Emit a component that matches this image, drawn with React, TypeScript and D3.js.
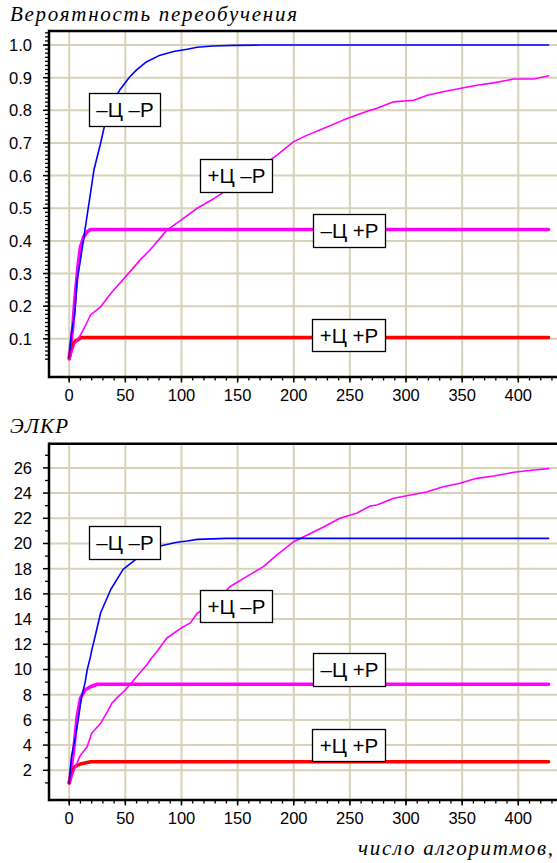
import React from "react";
import * as d3 from "d3";

// ---------- DATA ----------
const xTicks = [0, 50, 100, 150, 200, 250, 300, 350, 400];
const topYTicks = [0.1, 0.2, 0.3, 0.4, 0.5, 0.6, 0.7, 0.8, 0.9, 1.0];
const botYTicks = [2, 4, 6, 8, 10, 12, 14, 16, 18, 20, 22, 24, 26];

// Top panel: Вероятность переобучения
const topBlueX = [0, 2, 5, 7, 10, 14, 19, 22, 28, 32, 38, 45, 54, 60, 69, 81, 93, 105, 114, 128, 146, 170, 427];
const topBlueY = [0.045, 0.117, 0.178, 0.28, 0.341, 0.433, 0.547, 0.617, 0.7, 0.761, 0.822, 0.862, 0.903, 0.924, 0.949, 0.969, 0.98, 0.987, 0.993, 0.997, 0.999, 1.0, 1.0];

const topMagThinX = [0, 5, 10, 14, 19, 28, 37, 45, 54, 63, 72, 87, 99, 114, 129, 143, 158, 173, 185, 200, 212, 227, 244, 256, 268, 274, 289, 307, 319, 333, 348, 363, 378, 396, 414, 427];
const topMagThinY = [0.035, 0.086, 0.111, 0.137, 0.173, 0.198, 0.239, 0.27, 0.305, 0.341, 0.372, 0.433, 0.462, 0.5, 0.53, 0.561, 0.586, 0.632, 0.663, 0.704, 0.724, 0.745, 0.77, 0.786, 0.8, 0.806, 0.826, 0.831, 0.846, 0.857, 0.867, 0.877, 0.884, 0.896, 0.896, 0.906];

const topMagThickX = [0, 3, 5, 8, 10, 13, 16, 19, 427];
const topMagThickY = [0.04, 0.13, 0.22, 0.33, 0.382, 0.413, 0.428, 0.435, 0.435];

const topRedX = [0, 2, 4, 7, 11, 427];
const topRedY = [0.04, 0.07, 0.088, 0.096, 0.104, 0.104];

// Bottom panel: ЭЛКР
const botBlueX = [0, 2, 5, 8, 11, 14, 16, 19, 20, 23, 28, 37, 48, 63, 81, 96, 105, 114, 140, 427];
const botBlueY = [1, 3.08, 4.4, 6.0, 7.85, 8.9, 9.96, 11.04, 11.5, 12.6, 14.5, 16.35, 17.95, 19.0, 19.8, 20.1, 20.2, 20.33, 20.41, 20.41];

const botMagThinX = [0, 5, 10, 16, 20, 28, 34, 38, 42, 50, 60, 69, 72, 78, 87, 99, 108, 114, 129, 143, 158, 173, 185, 200, 212, 227, 241, 256, 268, 274, 289, 304, 319, 333, 348, 363, 378, 396, 414, 427];
const botMagThinY = [1, 2.16, 3.2, 3.87, 4.94, 5.73, 6.65, 7.32, 7.71, 8.37, 9.43, 10.36, 10.75, 11.41, 12.5, 13.25, 13.7, 14.46, 15.25, 16.57, 17.37, 18.16, 19.09, 20.14, 20.67, 21.33, 22.0, 22.4, 22.98, 23.06, 23.59, 23.85, 24.11, 24.51, 24.78, 25.17, 25.36, 25.65, 25.83, 25.94];

const botMagThickX = [0, 4, 7, 10, 14, 19, 25, 427];
const botMagThickY = [1, 3.6, 6.25, 7.71, 8.37, 8.63, 8.83, 8.83];

const botRedX = [0, 3, 5, 10, 19, 427];
const botRedY = [1, 2.0, 2.29, 2.5, 2.68, 2.68];

const seriesNames = ["–Ц –Р", "+Ц –Р", "–Ц +Р", "+Ц +Р"];

// ---------- LAYOUT ----------
const W = 557;
const H = 863;
const GRID = "#d6d3b6";
const SANS = "'Liberation Sans', Arial, sans-serif";
const SERIF = "'Liberation Serif', 'Times New Roman', serif";

type Series = { x: number[]; y: number[]; color: string; width: number };
type LabelBox = { name: string; x0: number; y0: number; w: number; h: number };

function zip(xs: number[], ys: number[]): [number, number][] {
  return xs.map((v, i) => [v, ys[i]] as [number, number]);
}

function Panel(props: {
  top: number;
  bottom: number;
  yDomain: [number, number];
  yTicks: number[];
  yMinorStep: number;
  yMinorRange: [number, number];
  yFmt: (v: number) => string;
  series: Series[];
  labels: LabelBox[];
}) {
  const { top, bottom, yDomain, yTicks, yMinorStep, yMinorRange, yFmt, series, labels } = props;
  const left = 49;
  const x = d3.scaleLinear().domain([-18, 440]).range([left, left + 458 * 1.1227]);
  const y = d3.scaleLinear().domain(yDomain).range([bottom, top]);
  const line = d3
    .line<[number, number]>()
    .x((d) => x(d[0]))
    .y((d) => y(d[1]))
    .curve(d3.curveLinear);

  const minorY: number[] = [];
  for (let v = yMinorRange[0]; v <= yMinorRange[1] + 1e-9; v += yMinorStep) minorY.push(v);
  const minorX: number[] = d3.range(0, 440, 10);
  const right = W + 10;

  return (
    <g>
      {xTicks.map((t) => (
        <line key={"gx" + t} x1={x(t)} x2={x(t)} y1={top} y2={bottom} stroke={GRID} strokeWidth={2} />
      ))}
      {yTicks.map((t) => (
        <line key={"gy" + t} x1={left} x2={right} y1={y(t)} y2={y(t)} stroke={GRID} strokeWidth={2} />
      ))}
      {series.map((s, i) => (
        <path
          key={"s" + i}
          d={line(zip(s.x, s.y)) || ""}
          fill="none"
          stroke={s.color}
          strokeWidth={s.width}
          strokeLinejoin="round"
          strokeLinecap="round"
        />
      ))}
      {labels.map((l, i) => (
        <g key={"l" + i}>
          <rect x={l.x0} y={l.y0} width={l.w} height={l.h} fill="#fff" stroke="#000" strokeWidth={1.3} />
          <text
            x={l.x0 + l.w / 2}
            y={l.y0 + l.h / 2 + 7.3}
            textAnchor="middle"
            fontFamily={SANS}
            fontSize={20.5}
            fill="#000"
          >
            {l.name}
          </text>
        </g>
      ))}
      <line x1={left} x2={right} y1={top} y2={top} stroke="#000" strokeWidth={2.5} />
      <line x1={left} x2={left} y1={top - 1.2} y2={bottom + 1.2} stroke="#000" strokeWidth={2.5} />
      <line x1={left} x2={right} y1={bottom} y2={bottom} stroke="#000" strokeWidth={2.5} />
      {minorY.map((v, i) => (
        <line key={"my" + i} x1={left - 4} x2={left} y1={y(v)} y2={y(v)} stroke="#000" strokeWidth={1.3} />
      ))}
      {yTicks.map((t) => (
        <g key={"ty" + t}>
          <line x1={left - 6} x2={left} y1={y(t)} y2={y(t)} stroke="#000" strokeWidth={1.5} />
          <text x={32} y={y(t) + 6} textAnchor="end" fontFamily={SANS} fontSize={16.5} fill="#000">
            {yFmt(t)}
          </text>
        </g>
      ))}
      {minorX.map((v) => (
        <line key={"mx" + v} x1={x(v)} x2={x(v)} y1={bottom} y2={bottom + 3.5} stroke="#000" strokeWidth={1.3} />
      ))}
      {xTicks.map((t) => (
        <g key={"tx" + t}>
          <line x1={x(t)} x2={x(t)} y1={bottom} y2={bottom + 5.5} stroke="#000" strokeWidth={1.5} />
          <text x={x(t)} y={bottom + 24} textAnchor="middle" fontFamily={SANS} fontSize={16.5} fill="#000">
            {String(t)}
          </text>
        </g>
      ))}
    </g>
  );
}

export default function App() {
  const topSeries: Series[] = [
    { x: topMagThickX, y: topMagThickY, color: "#ff00ff", width: 3.5 },
    { x: topRedX, y: topRedY, color: "#ff0000", width: 3.5 },
    { x: topMagThinX, y: topMagThinY, color: "#ff00ff", width: 1.6 },
    { x: topBlueX, y: topBlueY, color: "#0000ff", width: 1.6 },
  ];
  const botSeries: Series[] = [
    { x: botMagThickX, y: botMagThickY, color: "#ff00ff", width: 3.5 },
    { x: botRedX, y: botRedY, color: "#ff0000", width: 3.5 },
    { x: botMagThinX, y: botMagThinY, color: "#ff00ff", width: 1.6 },
    { x: botBlueX, y: botBlueY, color: "#0000ff", width: 1.6 },
  ];
  const topLabels: LabelBox[] = [
    { name: seriesNames[0], x0: 89.5, y0: 93.5, w: 71, h: 33 },
    { name: seriesNames[1], x0: 200.5, y0: 159.5, w: 72, h: 33 },
    { name: seriesNames[2], x0: 313.5, y0: 214.5, w: 72, h: 33 },
    { name: seriesNames[3], x0: 312.5, y0: 319.5, w: 73, h: 32 },
  ];
  const botLabels: LabelBox[] = [
    { name: seriesNames[0], x0: 89.5, y0: 526.5, w: 71, h: 33 },
    { name: seriesNames[1], x0: 200.5, y0: 590.5, w: 72, h: 32 },
    { name: seriesNames[2], x0: 313.5, y0: 653.5, w: 72, h: 33 },
    { name: seriesNames[3], x0: 312.5, y0: 729.5, w: 73, h: 32 },
  ];

  return (
    <svg
      width={W}
      height={H}
      viewBox={`0 0 ${W} ${H}`}
      style={{ position: "absolute", left: 0, top: 0, background: "#fff" }}
    >
      <rect x={0} y={0} width={W} height={H} fill="#fff" />
      <text x={10} y={21} fontFamily={SERIF} fontStyle="italic" fontSize={21} fill="#000" textLength={287} lengthAdjust="spacing">
        Вероятность переобучения
      </text>
      <Panel
        top={31}
        bottom={377}
        yDomain={[-0.017, 1.043]}
        yTicks={topYTicks}
        yMinorStep={0.0125}
        yMinorRange={[0.0375, 1.0375]}
        yFmt={(v) => v.toFixed(1)}
        series={topSeries}
        labels={topLabels}
      />
      <text x={10} y={433} fontFamily={SERIF} fontStyle="italic" fontSize={21} fill="#000" textLength={58} lengthAdjust="spacing">
        ЭЛКР
      </text>
      <Panel
        top={443.7}
        bottom={800}
        yDomain={[-0.357, 27.92]}
        yTicks={botYTicks}
        yMinorStep={2}
        yMinorRange={[1, 27]}
        yFmt={(v) => String(v)}
        series={botSeries}
        labels={botLabels}
      />
      <text x={358} y={855} fontFamily={SERIF} fontStyle="italic" fontSize={21} fill="#000" textLength={195} lengthAdjust="spacing">
        число алгоритмов,
      </text>
    </svg>
  );
}
